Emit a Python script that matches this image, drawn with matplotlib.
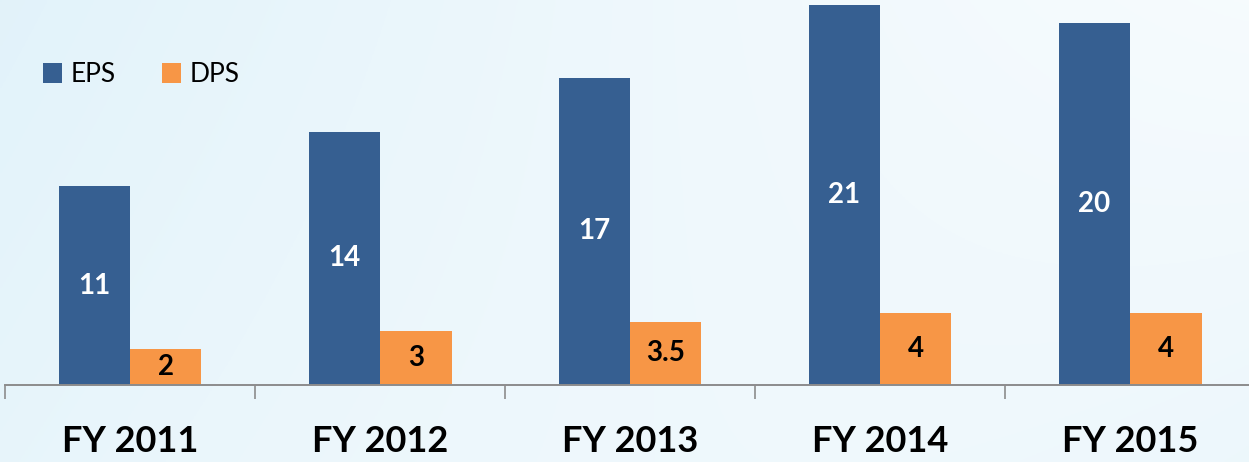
import numpy as np
import matplotlib
matplotlib.use("Agg")
import matplotlib.pyplot as plt

# data
years = ["FY 2011", "FY 2012", "FY 2013", "FY 2014", "FY 2015"]
eps = [11, 14, 17, 21, 20]
dps = [2, 3, 3.5, 4, 4]
eps_labels = ["11", "14", "17", "21", "20"]
dps_labels = ["2", "3", "3.5", "4", "4"]

EPS_COLOR = "#365f91"
DPS_COLOR = "#f79646"
FONT = ["Lato", "DejaVu Sans"]

W, H = 1249, 462
fig = plt.figure(figsize=(W / 100, H / 100), dpi=100)

# soft bluish background gradient
bg = fig.add_axes([0, 0, 1, 1], zorder=0)
yy, xx = np.mgrid[0:1:200j, 0:1:400j]
base = np.array([0.965, 0.985, 0.995])
blue = np.array([0.86, 0.94, 0.975])
w = np.clip(0.55 * (1 - xx) ** 1.5 + 0.35 * yy * xx ** 2 + 0.2 * (1 - yy) * (1 - xx), 0, 1)
img = base[None, None, :] * (1 - w[..., None]) + blue[None, None, :] * w[..., None]
bg.imshow(img, aspect="auto", extent=[0, 1, 0, 1], origin="upper")
bg.axis("off")

# main axes: baseline at y=385px, categories span 250px starting at x=5
ax = fig.add_axes([5 / W, 77 / H, 1250 / W, 385 / H], zorder=1)
ax.patch.set_alpha(0)
x = np.arange(len(years))
bw = 0.286
b1 = ax.bar(x - bw / 2, eps, bw, color=EPS_COLOR, label="EPS")
b2 = ax.bar(x + bw / 2, dps, bw, color=DPS_COLOR, label="DPS")

for rect, lab in zip(b1, eps_labels):
    ax.text(rect.get_x() + rect.get_width() / 2, rect.get_height() / 2, lab,
            ha="center", va="center", color="white", fontsize=20,
            fontweight="bold", family=FONT)
for rect, lab in zip(b2, dps_labels):
    ax.text(rect.get_x() + rect.get_width() / 2, rect.get_height() / 2, lab,
            ha="center", va="center", color="black", fontsize=20,
            fontweight="bold", family=FONT)

ax.set_xlim(-0.5, len(years) - 0.5)
ax.set_ylim(0, 21.3)
for s in ["top", "right", "left"]:
    ax.spines[s].set_visible(False)
ax.spines["bottom"].set_color("#8c8c8c")
ax.spines["bottom"].set_linewidth(1.4)
ax.set_yticks([])
ax.set_xticks(np.arange(-0.5, len(years), 1.0))
ax.set_xticklabels([])
ax.tick_params(axis="x", length=10, width=1.2, color="#8c8c8c", direction="out")

for xi, lab in zip(x, years):
    ax.text(xi, -3.1, lab, ha="center", va="center", fontsize=26,
            fontweight="bold", family=FONT, color="black")

leg = ax.legend(loc="upper left", bbox_to_anchor=(0.011, 0.90), ncol=2,
                frameon=False, prop={"family": FONT, "size": 19},
                handlelength=0.75, handleheight=0.75, handletextpad=0.3,
                columnspacing=1.75)

fig.savefig("out.png", dpi=100)
